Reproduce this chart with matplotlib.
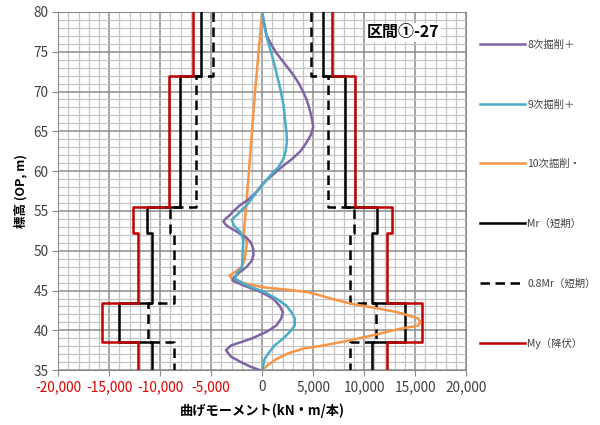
import matplotlib
matplotlib.use("Agg")
import matplotlib.pyplot as plt
from matplotlib.ticker import MultipleLocator, FuncFormatter
import numpy as np

plt.rcParams['font.family'] = ['Noto Sans CJK JP', 'DejaVu Sans']

# Step capacity profiles (elevation segments, top -> bottom)
seg_top = [80, 72, 55.5, 52.2, 43.5, 38.5]
seg_bot = [72, 55.5, 52.2, 43.5, 38.5, 35]
Mr = [6000, 8100, 11300, 10800, 14000, 10800]
My = [6800, 9100, 12700, 12200, 15700, 12200]
Mr08 = [4800, 6480, 9040, 8640, 11200, 8640]

# Bending moment curves
elev8 = [80, 78.5, 77, 76, 75, 74, 73, 72, 71, 70, 69, 68, 67, 66, 65.5, 64.5, 63.5, 62.5, 61.5, 60.4,
         59.5, 58.9, 58.3, 57.5, 57.0, 56.3, 55.75, 55.0, 54.5, 54.0, 53.7, 53.3, 53.0, 52.4, 51.6, 51.0,
         50.3, 49.5, 48.8, 48.0, 47.2, 46.6, 46.25, 45.6, 44.8, 44.0, 43.1, 42.3, 41.5, 40.6, 39.8, 38.95,
         38.1, 37.5, 36.7, 36.0, 35.4, 35.0]
m8 = [0, 200, 450, 850, 1300, 1900, 2500, 3100, 3600, 4000, 4350, 4600, 4800, 4950, 5000, 4750, 4300, 3750, 2900, 1800,
      1000, 450, 0, -500, -850, -1500, -2150, -2800, -3150, -3600, -3800, -3600, -3300, -2500, -1500, -1100,
      -900, -850, -1000, -1500, -2300, -2800, -2900, -1750, -100, 1050, 1700, 2030, 1870, 1380, 400, -1080,
      -3060, -3550, -3060, -2070, -1080, -200]

elev9 = [80, 78, 76.7, 74.6, 72.5, 70.4, 68.3, 66.2, 65, 63.7, 62.5, 61.6, 60.5, 59.9, 58.7, 57.4, 55.75,
         54.5, 53.9, 53.2, 52.4, 51.4, 50, 48.5, 47.9, 47.2, 46.5, 46.0, 45.6, 44.8, 44.0, 43.1, 42.3,
         41.5, 40.6, 39.8, 38.95, 38.1, 37.3, 36.4, 35.6, 35]
m9 = [0, 250, 460, 950, 1370, 1760, 2090, 2250, 2380, 2420, 2300, 2090, 1600, 1100, 300, -520, -1500,
      -2480, -2970, -2800, -2160, -1850, -1900, -1950, -2000, -2480, -2650, -2000, -1420, 230, 1380, 2370, 2860,
      3190, 3190, 2700, 2030, 1210, 720, 230, 100, 0]

elev10 = [80, 75, 70, 65, 60, 56, 53, 52, 51, 49, 48, 47.2, 46.9, 46.3, 45.8, 45.4, 45.1, 44.8, 44.2, 43.9,
          43.3, 42.9, 42.3, 41.5, 41.0, 40.6, 40.2, 39.4, 38.75, 38.1, 37.7, 37.1, 36.4, 35.6, 35]
m10 = [0, -350, -700, -1000, -1300, -1550, -1750, -1800, -1500, -1700, -2000, -2800, -3200, -2900, -1400, 200,
       2500, 4500, 6200, 7000, 8900, 10700, 13200, 15300, 15500, 15300, 13500, 10900, 8600, 6000, 4000, 2500,
       1400, 500, 0]

labels = ['8次掘削＋', '9次掘削＋', '10次掘削・', 'Mr（短期）', '0.8Mr（短期）', 'My（降伏）']
xticks = [-20000, -15000, -10000, -5000, 0, 5000, 10000, 15000, 20000]
yticks = [35, 40, 45, 50, 55, 60, 65, 70, 75, 80]


def step_path(vals, sign):
    xs, ys = [], []
    for t, b, v in zip(seg_top, seg_bot, vals):
        xs += [sign * v, sign * v]
        ys += [t, b]
    return xs, ys


fig = plt.figure(figsize=(6, 4.25), dpi=100)
ax = fig.add_axes([0.097, 0.129, 0.68, 0.843])

c8, c9, c10 = '#8064A2', '#4BACC6', '#F79646'
l8, = ax.plot(m8, elev8, color=c8, lw=1.8, zorder=5)
l9, = ax.plot(m9, elev9, color=c9, lw=1.8, zorder=5)
l10, = ax.plot(m10, elev10, color=c10, lw=1.8, zorder=4)

for sign in (-1, 1):
    x, y = step_path(Mr, sign)
    lmr, = ax.plot(x, y, color='black', lw=1.8, zorder=3)
    x, y = step_path(Mr08, sign)
    lmr8, = ax.plot(x, y, color='black', lw=1.8, ls=(0, (3.8, 2.2)), zorder=3)
    x, y = step_path(My, sign)
    lmy, = ax.plot(x, y, color='#C00000', lw=1.8, zorder=3)

ax.set_xlim(-20000, 20000)
ax.set_ylim(35, 80)
ax.xaxis.set_minor_locator(MultipleLocator(1000))
ax.yaxis.set_minor_locator(MultipleLocator(1))
ax.set_xticks(xticks)
ax.set_yticks(yticks)
ax.xaxis.set_major_formatter(FuncFormatter(lambda v, p: f'{int(v):,}'))
ax.grid(which='major', color='#8c8c8c', lw=1.1, zorder=0)
ax.grid(which='minor', color='#c4c4c4', lw=0.9, zorder=0)
ax.set_axisbelow(True)
ax.tick_params(which='major', direction='out', length=4, color='#8c8c8c', labelsize=9.8,
               labelcolor='#404040', pad=3)
ax.tick_params(which='minor', length=0)
for lab, v in zip(ax.get_xticklabels(), xticks):
    if v < 0:
        lab.set_color('#E00000')
for s in ax.spines.values():
    s.set_color('#8c8c8c')

ax.set_xlabel('曲げモーメント(kN・m/本)', fontsize=9.5, fontweight='bold', labelpad=7)
ax.set_ylabel('標高 (OP, m)', fontsize=9, fontweight='bold', labelpad=4)

ax.text(0.935, 0.965, '区間①-27', transform=ax.transAxes, ha='right', va='top',
        fontsize=11.5, fontweight='bold', zorder=6,
        bbox=dict(facecolor='white', edgecolor='none', pad=1))

fig.legend([l8, l9, l10, lmr, lmr8, lmy], labels, loc='upper left',
           bbox_to_anchor=(0.785, 0.928), frameon=False, fontsize=7.5,
           handlelength=4.3, handletextpad=0.2, labelspacing=4.75, labelcolor='#404040')

fig.savefig('out.png', dpi=100)
